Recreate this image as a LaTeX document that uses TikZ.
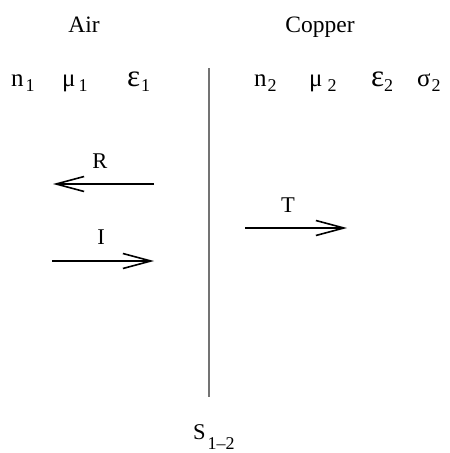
\documentclass[tikz,border=0pt]{standalone}
\usepackage{fontspec}
\setmainfont{Liberation Serif}
\usetikzlibrary{arrows.meta}
\newcommand{\subx}[1]{\raisebox{-5pt}{\fontsize{18}{20}\selectfont #1}}
\newcommand{\subs}[1]{\raisebox{-10pt}{\fontsize{18}{20}\selectfont #1}}
\newcommand{\bigeps}{{\fontsize{31}{32}\selectfont ε}}
\begin{document}
\begin{tikzpicture}[x=1pt,y=-1pt,
  txt/.style={font=\fontsize{23.5}{26}\selectfont, inner sep=0pt, anchor=base},
  lbl/.style={font=\fontsize{22.5}{26}\selectfont, inner sep=0pt, anchor=base},
  sym/.style={font=\fontsize{25}{28}\selectfont, inner sep=0pt, anchor=base west},
  arr/.style={line width=1.8pt, -{Straight Barb[length=28pt,width=15pt,line width=1.6pt]}},
  iface/.style={line width=1.3pt, draw=black!55}]
\useasboundingbox (0,0) rectangle (450,453);
% headings
\node[txt] (air) at (84,32) {Air};
\node[txt] (copper) at (320,32) {Copper};
% material parameters
\node[sym] (n1) at (11,86) {n\hspace{2pt}\subx{1}};
\node[sym] (mu1) at (62,86) {μ\hspace{3pt}\subx{1}};
\node[sym] (eps1) at (127,86) {\bigeps\hspace{1pt}\subx{1}};
\node[sym] (n2) at (254,86) {n\hspace{1pt}\subx{2}};
\node[sym] (mu2) at (309,86) {μ\hspace{5pt}\subx{2}};
\node[sym] (eps2) at (371,86) {\bigeps\hspace{0pt}\subx{2}};
\node[sym] (sig2) at (417,86) {σ\hspace{1pt}\subx{2}};
% interface
\coordinate (itop) at (209,68);
\coordinate (ibot) at (209,397);
\draw[iface] (itop) -- (ibot);
\node[sym, font=\fontsize{22.5}{26}\selectfont] (s12) at (193,439) {S\hspace{2pt}\subs{1--2}};
% arrows
\coordinate (rs) at (154,184);
\coordinate (re) at (53,184);
\draw[arr] (rs) -- (re);
\node[lbl] (rl) at (100,168) {R};
\coordinate (is) at (52,261);
\coordinate (ie) at (154,261);
\draw[arr] (is) -- (ie);
\node[lbl] (il) at (101,244) {I};
\coordinate (ts) at (245,228);
\coordinate (te) at (347,228);
\draw[arr] (ts) -- (te);
\node[lbl] (tl) at (288,212) {T};
\end{tikzpicture}
\end{document}
